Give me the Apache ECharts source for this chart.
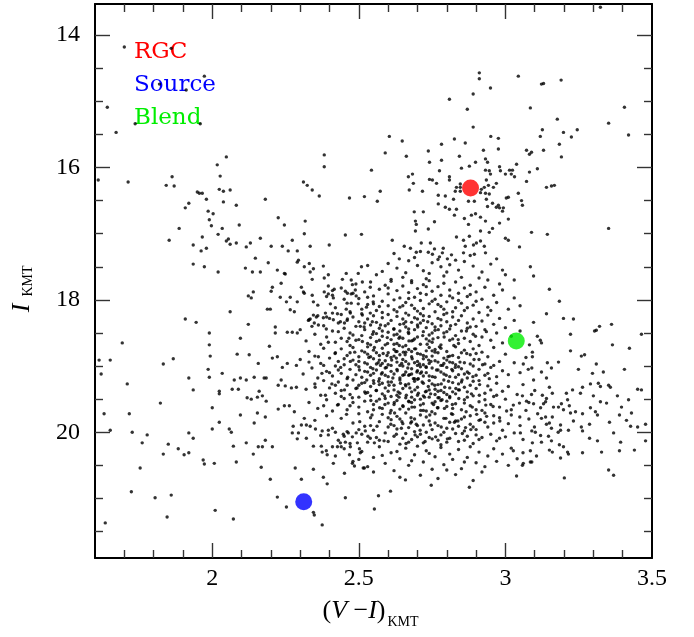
<!DOCTYPE html>
<html>
<head>
<meta charset="utf-8">
<script src="https://cdn.jsdelivr.net/npm/echarts@6/dist/echarts.min.js"></script>
<style>html,body{margin:0;padding:0;background:#fff}#c{width:694px;height:637px}</style>
</head>
<body>
<div id="c"></div>
<script>
// ---- axis ticks ----
const xMajorTicks = [2, 2.5, 3];
const xLabelValues = [2, 2.5, 3, 3.5];
const xMinorTicks = [1.7,1.8,1.9,2.1,2.2,2.3,2.4,2.6,2.7,2.8,2.9,3.1,3.2,3.3,3.4];
const yMajorTicks = [14, 16, 18, 20];
const yMinorTicks = [14.5,15,15.5,16.5,17,17.5,18.5,19,19.5,20.5,21,21.5];

// ---- highlighted stars ----
const rgcPoint = [2.881, 16.31];
const sourcePoint = [2.312, 21.05];
const blendPoint = [3.037, 18.62];

// ---- field stars ----
const starsTop = [[1.70,14.18],[1.86,14.20],[1.973,14.62],[1.82,14.74],[1.911,14.83],[1.642,15.09],[1.672,15.47],[1.737,15.34],[1.959,15.34],
[3.324,13.58],[2.604,15.53],[2.911,14.57],[2.911,14.66],[3.044,14.62],[3.123,14.74],[3.13,14.73],[3.19,14.68],[2.949,14.80],[2.89,14.89],[2.809,14.97],[2.87,15.12],[3.085,15.10],[3.406,15.09],[3.177,15.27],[3.352,15.33],[2.89,15.39],[3.126,15.43],[3.198,15.47],[3.245,15.43],[2.826,15.57],[2.95,15.53],[2.976,15.56],[3.119,15.53],[3.225,15.54],[3.42,15.51]];

const starsUpperLeft = [[1.611,16.19],[1.713,16.22],[1.843,16.27],[1.863,16.14],[1.87,16.28],[2.017,15.96],[2.048,15.84],[2.027,16.13],[2.024,16.33],[2.038,16.36],[2.061,16.34],[1.949,16.37],[1.956,16.39],[1.966,16.39],[1.98,16.48],[1.92,16.54],[1.908,16.61],[2.038,16.52],[2.082,16.57],[1.986,16.66],[2.003,16.70],[1.99,16.79],[1.997,16.88],[1.887,16.92],[1.853,17.10],[1.935,17.17],[1.966,17.05],[1.98,17.22],[1.962,17.26],[2.02,17.01],[2.034,16.92],[2.048,17.11],[2.055,17.08],[2.061,17.16],[2.082,17.14],[2.092,16.87],[1.935,17.46],[1.973,17.50],[2.02,17.58],[2.061,18.18],[1.908,18.29],[1.945,18.34],[2.123,18.37],[2.181,16.48],[2.225,16.76],[2.246,16.87],[2.311,16.22],[2.324,16.27],[2.341,16.34],[2.365,16.43],[2.382,15.81],[2.382,15.99],[2.317,16.81],[2.314,17.0],[2.273,17.1],[2.334,17.19],[2.259,17.26],[2.29,17.26],[2.29,17.43],[2.294,17.4],[2.331,17.45],[2.314,17.5],[2.334,17.58],[2.345,17.53],[2.468,16.46],[2.519,16.44],[2.543,16.04],[2.454,17.02],[2.509,17.01],[2.399,17.17],[2.379,17.49],[2.382,17.67],[2.396,17.62],[2.457,17.6],[2.498,17.6],[2.509,17.5],[2.512,17.73],[2.444,17.69],[2.539,17.81],[2.382,17.88],[2.416,17.84],[2.396,17.91],[2.41,17.93],[2.113,17.52],[2.137,17.58],[2.164,17.58],[2.147,17.37],[2.116,17.2],[2.13,17.14],[2.164,17.07],[2.201,17.19],[2.191,17.44],[2.222,17.55],[2.246,17.6],[2.249,17.61],[2.239,17.19],[2.235,17.75],[2.205,17.81],[2.201,17.87],[2.14,17.88],[2.123,17.94],[2.133,17.97],[2.232,17.96],[2.253,18.03],[2.266,17.96],[2.29,18.03],[2.311,17.88],[2.304,17.81],[2.314,17.9],[2.345,18.03],[2.341,17.93],[2.341,17.69],[2.355,18.26],[2.334,18.29],[2.266,18.15],[2.28,18.18],[2.188,18.14],[2.198,18.14],[2.215,18.41],[2.348,18.35],[2.362,18.38],[2.379,18.27],[2.386,18.2],[2.389,18.44],[2.403,18.06],[2.41,18.2],[2.413,18.3],[2.413,17.97],[2.396,17.79],[2.427,18.21],[2.437,18.33],[2.451,18.35],[2.461,18.29],[2.457,18.14],[2.474,18.05],[2.471,18.2],[2.498,18.06],[2.505,18.4],[2.512,18.23],[2.526,18.11],[2.539,18.2],[2.546,18.33],[2.549,18.03],[2.454,17.87],[2.461,17.9],[2.474,17.91],[2.491,17.94],[2.478,17.77],[2.488,17.85],[2.474,17.7],[2.345,18.23],[2.328,18.31]];

const starsBranch = [[2.782,15.65],[2.648,15.60],[2.863,15.63],[2.976,15.72],[2.925,15.74],[3.072,15.74],[3.082,15.80],[3.089,15.77],[3.13,15.74],[3.184,15.65],[3.191,15.84],[2.737,15.75],[2.741,15.92],[2.782,15.89],[2.843,15.83],[2.59,15.78],[2.662,15.83],[2.563,16.51],[2.573,16.36],[2.614,17.1],[2.669,16.14],[2.683,16.10],[2.672,16.34],[2.686,16.24],[2.717,16.36],[2.741,16.18],[2.751,16.19],[2.765,16.24],[2.775,16.05],[2.809,16.14],[2.809,16.19],[2.85,16.01],[2.877,15.98],[2.898,15.92],[2.932,15.87],[2.939,15.92],[2.932,16.04],[2.945,16.05],[2.949,16.10],[2.98,15.99],[2.983,16.05],[3.014,16.04],[3.024,16.04],[3.02,16.10],[3.031,16.14],[3.0,16.10],[3.038,15.95],[3.072,16.21],[3.082,16.07],[3.109,16.02],[3.14,16.30],[3.157,16.28],[3.167,16.27],[2.935,16.19],[2.942,16.27],[2.928,16.30],[2.918,16.33],[2.932,16.39],[2.945,16.40],[2.959,16.30],[2.969,16.24],[2.846,16.30],[2.833,16.30],[2.829,16.36],[2.846,16.36],[2.846,16.25],[2.771,16.42],[2.795,16.43],[2.771,16.55],[2.795,16.60],[2.809,16.63],[2.823,16.48],[2.833,16.63],[2.826,16.72],[2.874,16.51],[2.894,16.51],[2.935,16.48],[2.939,16.59],[2.956,16.54],[2.976,16.57],[2.969,16.60],[2.98,16.61],[2.99,16.66],[2.993,16.61],[3.003,16.46],[3.01,16.45],[3.044,16.39],[3.055,16.50],[3.058,16.57],[2.915,16.38],[2.689,16.67],[2.72,16.67],[2.693,16.81],[2.696,16.86],[2.693,16.96],[2.737,16.93],[2.758,16.82],[2.86,16.77],[2.884,16.72],[2.898,16.70],[2.915,16.75],[2.932,16.81],[2.874,16.86],[2.98,16.84],[3.01,16.78],[2.956,16.92],[2.945,16.98],[2.833,17.05],[2.877,17.04],[2.915,16.96],[2.857,17.10],[2.863,17.19],[2.891,17.17],[2.901,17.14],[2.915,17.11],[2.928,17.19],[3.0,17.07],[3.01,17.10],[3.048,17.20],[3.089,16.98],[3.143,17.01],[3.352,16.92],[2.655,17.19],[2.676,17.22],[2.696,17.28],[2.713,17.14],[2.744,17.14],[2.751,17.31],[2.737,17.28],[2.758,17.23],[2.775,17.35],[2.785,17.29],[2.788,17.22],[2.802,17.38],[2.816,17.32],[2.857,17.29],[2.894,17.31],[2.932,17.29],[2.638,17.38]];

const starsLowerLeft = [[1.693,18.65],[1.614,18.91],[1.652,18.91],[1.621,19.12],[1.71,19.27],[1.833,18.97],[1.867,18.89],[1.99,18.5],[1.99,18.68],[1.993,18.85],[1.986,19.05],[1.99,19.17],[2.034,19.11],[1.92,19.18],[1.935,19.36],[1.823,19.56],[1.631,19.72],[1.717,19.72],[1.652,19.97],[1.727,20.0],[1.761,20.16],[1.778,20.04],[1.833,20.33],[1.85,20.18],[1.884,20.25],[1.904,20.34],[1.92,20.31],[1.92,20.01],[1.935,20.09],[1.86,20.95],[1.805,20.99],[1.724,20.9],[1.754,20.54],[1.846,21.28],[1.635,21.37],[1.969,20.42],[1.973,20.48],[2.007,20.47],[2.0,19.95],[2.0,19.63],[2.024,19.85],[2.024,19.38],[2.024,19.42],[2.058,19.95],[2.065,20.0],[2.01,21.18],[2.072,21.31],[2.082,20.45],[2.072,20.21],[2.116,20.16],[2.096,19.74],[2.085,18.82],[2.096,18.58],[2.126,18.83],[2.068,19.35],[2.075,19.21],[2.089,19.35],[2.096,19.18],[2.116,19.21],[2.143,19.17],[2.119,19.48],[2.133,19.5],[2.143,19.86],[2.154,19.71],[2.154,19.47],[2.16,19.38],[2.171,19.45],[2.157,18.96],[2.177,19.18],[2.184,19.18],[2.184,19.53],[2.181,19.77],[2.157,20.22],[2.14,20.33],[2.171,20.22],[2.181,20.12],[2.205,20.22],[2.167,20.53],[2.198,20.71],[2.222,20.98],[2.253,21.13],[2.283,20.54],[2.304,20.71],[2.345,20.56],[2.379,20.68],[2.392,20.78],[2.345,21.21],[2.348,21.25],[2.375,21.4],[2.454,20.99],[2.553,21.16],[2.451,20.62],[2.413,20.47],[2.478,20.47],[2.485,20.51],[2.519,20.54],[2.468,20.34],[2.502,20.25],[2.505,20.31],[2.495,20.16],[2.471,20.22],[2.44,20.22],[2.427,20.22],[2.41,20.22],[2.392,20.34],[2.375,20.3],[2.389,20.28],[2.372,20.21],[2.345,20.21],[2.321,20.09],[2.29,20.1],[2.273,20.01],[2.294,20.01],[2.314,19.79],[2.321,19.89],[2.334,19.91],[2.352,19.95],[2.375,19.98],[2.396,19.97],[2.42,20.0],[2.396,20.04],[2.447,20.03],[2.437,20.16],[2.454,20.15],[2.464,20.01],[2.478,20.07],[2.491,20.01],[2.522,19.98],[2.539,20.09],[2.553,20.16],
[2.205,18.88],[2.222,18.86],[2.239,19.02],[2.256,18.96],[2.287,18.99],[2.195,18.70],[2.215,18.5],[2.256,18.49],[2.273,18.49],[2.29,18.5],[2.225,19.29],[2.235,19.21],[2.249,19.3],[2.27,19.33],[2.287,19.32],[2.225,19.65],[2.246,19.6],[2.263,19.6],[2.28,19.69],[2.276,19.91],[2.304,19.89]];

const starsTail = [[3.085,17.50],[3.096,17.64],[3.15,17.84],[3.184,18.02],[3.198,18.28],[3.232,18.29],[3.096,18.34],[3.14,18.21],[3.222,18.52],[3.109,18.55],[3.119,18.61],[3.123,18.65],[3.082,18.68],[3.092,18.79],[3.092,18.86],[3.061,18.97],[3.078,19.05],[3.143,18.95],[3.157,19.03],[3.181,18.94],[3.14,19.18],[3.123,19.09],[3.096,19.21],[3.222,18.77],[3.259,18.85],[3.27,18.83],[3.249,19.05],[3.297,19.11],[3.31,18.97],[3.321,18.40],[3.31,18.46],[3.362,18.37],[3.365,18.68],[3.423,18.73],[3.406,19.05],[3.352,19.29],[3.358,19.32],[3.317,19.26],[3.324,19.31],[3.29,19.27],[3.263,19.32],[3.229,19.36],[3.256,19.41],[3.208,19.41],[3.16,19.41],[3.15,19.32],[3.126,19.44],[3.089,19.43],[3.058,19.45],[3.048,19.56],[3.072,19.53],[3.096,19.57],[3.13,19.57],[3.137,19.54],[3.164,19.62],[3.181,19.62],[3.191,19.57],[3.218,19.60],[3.198,19.66],[3.222,19.71],[3.239,19.69],[3.263,19.72],[3.29,19.63],[3.307,19.69],[3.324,19.54],[3.345,19.56],[3.382,19.45],[3.42,19.51],[3.451,19.35],[3.464,19.36],[3.478,19.88],[3.451,19.92],[3.427,19.91],[3.43,19.71],[3.413,19.82],[3.389,19.74],[3.369,20.01],[3.355,19.85],[3.314,19.74],[3.287,19.88],[3.259,19.92],[3.263,19.98],[3.232,19.83],[3.215,19.97],[3.188,19.97],[3.188,19.89],[3.157,19.94],[3.15,19.86],[3.137,19.77],[3.123,19.79],[3.099,19.92],[3.102,20.0],[3.157,20.13],[3.184,20.19],[3.198,20.22],[3.212,20.30],[3.215,20.33],[3.16,20.30],[3.188,20.39],[3.15,20.27],[3.147,20.06],[3.123,20.15],[3.092,20.16],[3.085,20.28],[3.106,20.36],[3.085,20.45],[3.061,20.47],[3.058,20.5],[3.027,20.28],[3.038,20.66],[3.051,20.01],[3.201,20.69],[3.263,20.31],[3.287,20.09],[3.314,20.13],[3.328,20.3],[3.352,20.57],[3.369,20.65],[3.393,20.15],[3.389,20.28],[3.44,20.27],[3.478,20.13],[3.396,19.62],[3.3,19.45],[3.212,19.51],[3.304,18.47],[3.464,18.52],[3.334,19.09],
[2.877,20.83],[2.608,20.89],[2.567,20.96],[2.747,20.80],[2.659,20.72],[2.515,20.54]];

const starsCoreUpper = [[2.60,17.45],[2.63,17.52],[2.67,17.41],[2.70,17.48],[2.72,17.56],[2.75,17.44],[2.78,17.5],[2.81,17.47],[2.84,17.55],[2.86,17.42],[2.89,17.49],[2.92,17.58],[2.95,17.46],[2.66,17.59],[2.69,17.36],[2.74,17.6],[2.77,17.39],[2.83,17.4],[2.58,17.57],[2.99,17.55],[2.88,17.33],[2.62,17.3],[2.71,17.27],[2.80,17.58],[2.97,17.38],[2.53,17.48],[2.56,17.62],[2.65,17.66],[2.73,17.68],[2.79,17.64],[2.85,17.66],[2.91,17.67],[2.94,17.7],[2.68,17.71],[2.61,17.69],[3.0,17.62],[3.03,17.7],
[2.39,17.95],[2.42,18.12],[2.44,17.82],[2.46,18.05],[2.47,18.18],[2.49,17.76],[2.50,17.98],[2.51,18.14],[2.52,17.88],[2.53,18.07],[2.54,17.73],[2.55,17.94],[2.56,18.16],[2.57,17.84],[2.58,18.02],[2.58,18.19],[2.59,17.78],[2.60,17.91],[2.60,18.09],[2.61,17.72],[2.62,18.0],[2.62,18.15],[2.63,17.86],[2.64,17.97],[2.64,18.11],[2.65,17.79],[2.66,18.04],[2.66,18.2],[2.67,17.89],[2.68,17.74],[2.68,18.08],[2.69,17.96],[2.70,18.17],[2.70,17.83],[2.71,18.01],[2.72,17.77],[2.72,18.13],[2.73,17.92],[2.74,18.06],[2.74,17.71],[2.75,17.87],[2.76,18.18],[2.76,17.99],[2.77,17.8],[2.78,18.1],[2.78,17.93],[2.79,17.75],[2.80,18.03],[2.80,18.2],[2.81,17.85],[2.82,17.97],[2.83,18.12],[2.83,17.73],[2.84,17.9],[2.85,18.05],[2.86,17.82],[2.86,18.16],[2.87,17.95],[2.88,17.78],[2.89,18.08],[2.90,17.88],[2.91,18.19],[2.92,17.99],[2.93,17.81],[2.94,18.11],[2.96,17.93],[2.97,18.04],[2.99,17.85],[3.01,18.14],[3.03,17.97],[3.05,18.09],[2.63,18.18],[2.67,17.98],[2.71,17.9],[2.75,18.02],[2.79,18.14],[2.84,18.01],[2.88,17.92],[2.57,18.1],[2.53,17.96],[2.69,18.13],[2.73,17.8],[2.77,18.07],[2.82,18.18],[2.6,17.82],[2.65,18.09],[2.48,17.9],[2.45,17.99],[2.41,17.86],[2.36,18.08],[2.55,18.06],[2.9,18.02],[2.95,18.16],[2.98,17.76],[2.87,18.12],[2.81,17.94]];

const starsCoreMiddle = [[2.30,18.45],[2.32,18.62],[2.33,18.3],[2.35,18.52],[2.36,18.24],[2.37,18.67],[2.38,18.39],[2.39,18.56],[2.40,18.28],[2.41,18.47],[2.42,18.64],[2.43,18.35],[2.44,18.22],[2.44,18.58],[2.45,18.43],[2.46,18.31],[2.47,18.69],[2.47,18.5],[2.48,18.26],[2.49,18.4],[2.49,18.61],[2.50,18.33],[2.51,18.54],[2.51,18.21],[2.52,18.45],[2.53,18.66],[2.53,18.29],[2.54,18.38],[2.54,18.57],[2.55,18.48],[2.55,18.24],[2.56,18.63],[2.56,18.34],[2.57,18.43],[2.58,18.55],[2.58,18.27],[2.59,18.68],[2.59,18.39],[2.60,18.49],[2.60,18.22],[2.61,18.6],[2.61,18.31],[2.62,18.44],[2.62,18.53],[2.63,18.25],[2.63,18.66],[2.64,18.37],[2.64,18.47],[2.65,18.58],[2.65,18.29],[2.66,18.41],[2.66,18.69],[2.67,18.23],[2.67,18.51],[2.68,18.34],[2.68,18.62],[2.69,18.45],[2.69,18.27],[2.70,18.56],[2.70,18.38],[2.71,18.67],[2.71,18.21],[2.72,18.48],[2.72,18.31],[2.73,18.59],[2.73,18.42],[2.74,18.25],[2.74,18.53],[2.75,18.36],[2.75,18.64],[2.76,18.46],[2.77,18.28],[2.77,18.57],[2.78,18.39],[2.78,18.68],[2.79,18.22],[2.79,18.5],[2.80,18.33],[2.81,18.61],[2.81,18.44],[2.82,18.26],[2.83,18.54],[2.83,18.37],[2.84,18.66],[2.85,18.47],[2.85,18.24],[2.86,18.58],[2.87,18.35],[2.87,18.43],[2.88,18.63],[2.89,18.29],[2.89,18.52],[2.90,18.4],[2.91,18.69],[2.92,18.32],[2.92,18.56],[2.93,18.45],[2.94,18.23],[2.95,18.61],[2.96,18.37],[2.97,18.5],[2.98,18.28],[2.99,18.65],[3.00,18.42],[3.02,18.55],[3.03,18.31],[3.05,18.47],[2.57,18.61],[2.6,18.36],[2.63,18.52],[2.66,18.33],[2.69,18.59],[2.72,18.24],[2.75,18.5],[2.78,18.3],[2.52,18.35],[2.48,18.53],[2.46,18.63],[2.62,18.67],[2.67,18.44],[2.71,18.35],[2.74,18.62],[2.8,18.48],[2.84,18.31],[2.88,18.41],[2.58,18.47],[2.54,18.68],[2.43,18.48],[2.39,18.26],[2.34,18.4],[2.5,18.6],[2.56,18.51],[2.64,18.56],[2.7,18.29],[2.76,18.41],[2.82,18.59],
[2.30,18.9],[2.31,19.12],[2.33,18.78],[2.34,19.03],[2.35,18.85],[2.36,19.18],[2.37,18.96],[2.38,18.73],[2.39,19.08],[2.40,18.88],[2.41,19.15],[2.42,18.8],[2.42,19.0],[2.43,18.93],[2.44,19.11],[2.44,18.74],[2.45,18.98],[2.46,19.19],[2.46,18.84],[2.47,19.05],[2.48,18.91],[2.48,18.72],[2.49,19.13],[2.50,18.86],[2.50,19.01],[2.51,18.77],[2.51,19.17],[2.52,18.95],[2.52,19.08],[2.53,18.82],[2.53,18.71],[2.54,19.02],[2.54,19.14],[2.55,18.89],[2.55,18.76],[2.56,19.06],[2.56,18.97],[2.57,19.19],[2.57,18.84],[2.58,18.73],[2.58,19.1],[2.59,18.92],[2.59,19.03],[2.60,18.8],[2.60,19.16],[2.61,18.87],[2.61,18.99],[2.62,19.12],[2.62,18.75],[2.63,19.05],[2.63,18.94],[2.64,18.83],[2.64,19.18],[2.65,18.71],[2.65,19.0],[2.65,18.9],[2.66,19.09],[2.66,18.79],[2.67,19.14],[2.67,18.97],[2.68,18.86],[2.68,19.04],[2.69,18.74],[2.69,19.19],[2.70,18.93],[2.70,19.07],[2.71,18.82],[2.71,19.01],[2.72,19.15],[2.72,18.89],[2.73,18.77],[2.73,19.1],[2.74,18.96],[2.74,18.72],[2.75,19.03],[2.75,18.85],[2.76,19.17],[2.76,18.92],[2.77,18.8],[2.77,19.06],[2.78,18.99],[2.78,18.73],[2.79,19.12],[2.79,18.88],[2.80,19.02],[2.80,18.78],[2.81,19.16],[2.81,18.94],[2.82,18.84],[2.82,19.07],[2.83,18.71],[2.83,18.98],[2.84,19.13],[2.84,18.87],[2.85,19.04],[2.86,18.76],[2.86,18.95],[2.87,19.18],[2.87,19.09],[2.88,18.83],[2.89,19.0],[2.89,18.74],[2.90,19.14],[2.91,18.9],[2.91,19.05],[2.92,18.79],[2.93,18.97],[2.94,19.11],[2.94,18.86],[2.95,19.02],[2.96,18.72],[2.97,19.16],[2.98,18.93],[2.99,19.07],[3.00,18.82],[3.01,19.13],[3.03,18.95],[3.05,19.1],[3.07,18.87],[3.09,19.03],[2.52,18.79],[2.55,19.11],[2.58,18.96],[2.61,19.08],[2.63,18.78],[2.64,18.99],[2.66,18.93],[2.67,18.75],[2.68,19.12],[2.69,18.95],[2.7,18.81],[2.71,19.11],[2.72,18.98],[2.73,18.86],[2.74,19.15],[2.76,18.75],[2.77,18.94],[2.78,19.09],[2.8,18.91],[2.82,18.95],[2.83,19.17],[2.85,18.8],[2.88,18.97],[2.6,18.98],[2.57,18.91],[2.54,18.86],[2.5,18.93],[2.47,18.8],[2.43,19.06],[2.38,18.99],[2.33,18.94],[2.62,18.85],[2.65,19.14],[2.68,18.78],[2.7,18.99],[2.73,19.02],[2.75,18.77],[2.79,18.96],[2.81,18.85],[2.84,19.01],[2.86,19.12],[2.9,18.81],[2.93,19.14],[2.96,18.99],[2.59,19.14],[2.56,18.8],[2.53,19.09],[2.49,18.98],[2.45,18.89],[2.4,19.1]];

const starsCoreLower = [[2.32,19.35],[2.33,19.55],[2.35,19.27],[2.36,19.64],[2.37,19.44],[2.38,19.22],[2.39,19.51],[2.40,19.33],[2.41,19.68],[2.42,19.41],[2.43,19.24],[2.43,19.58],[2.44,19.37],[2.45,19.49],[2.46,19.29],[2.46,19.66],[2.47,19.43],[2.48,19.21],[2.48,19.55],[2.49,19.34],[2.50,19.47],[2.50,19.62],[2.51,19.26],[2.52,19.39],[2.52,19.53],[2.53,19.69],[2.54,19.31],[2.54,19.45],[2.55,19.22],[2.55,19.58],[2.56,19.37],[2.57,19.5],[2.57,19.28],[2.58,19.64],[2.58,19.42],[2.59,19.33],[2.60,19.56],[2.60,19.24],[2.61,19.46],[2.61,19.67],[2.62,19.36],[2.62,19.29],[2.63,19.52],[2.64,19.41],[2.64,19.21],[2.65,19.6],[2.65,19.34],[2.66,19.48],[2.67,19.27],[2.67,19.65],[2.68,19.39],[2.68,19.55],[2.69,19.23],[2.70,19.44],[2.70,19.32],[2.71,19.59],[2.71,19.5],[2.72,19.26],[2.73,19.38],[2.73,19.68],[2.74,19.47],[2.74,19.22],[2.75,19.56],[2.76,19.35],[2.76,19.43],[2.77,19.63],[2.77,19.28],[2.78,19.52],[2.79,19.4],[2.79,19.21],[2.80,19.61],[2.81,19.33],[2.81,19.48],[2.82,19.25],[2.83,19.57],[2.83,19.42],[2.84,19.36],[2.85,19.66],[2.85,19.24],[2.86,19.51],[2.87,19.39],[2.88,19.29],[2.88,19.6],[2.89,19.45],[2.90,19.34],[2.91,19.54],[2.91,19.22],[2.92,19.67],[2.93,19.41],[2.94,19.3],[2.95,19.58],[2.96,19.46],[2.97,19.26],[2.98,19.62],[2.99,19.38],[3.00,19.5],[3.01,19.31],[3.02,19.66],[3.04,19.43],[3.06,19.28],[3.08,19.55],[3.10,19.37],[3.12,19.63],[3.14,19.49],[2.59,19.49],[2.62,19.58],[2.66,19.3],[2.69,19.62],[2.72,19.45],[2.75,19.27],[2.78,19.37],[2.8,19.53],[2.82,19.64],[2.84,19.27],[2.87,19.47],[2.9,19.66],[2.93,19.51],[2.56,19.53],[2.53,19.4],[2.5,19.29],[2.47,19.6],[2.44,19.46],[2.63,19.44],[2.67,19.53],[2.7,19.2],[2.74,19.36],[2.77,19.48],[2.8,19.43],[2.86,19.32],[2.89,19.23],[2.95,19.36],[2.6,19.38],[2.64,19.65],[2.68,19.47],[2.72,19.67],[2.76,19.54],[2.82,19.39],[2.42,19.29],[2.38,19.6],[2.55,19.66],[2.52,19.25],[2.58,19.26],[2.97,19.44],
[2.35,19.82],[2.37,20.05],[2.39,19.75],[2.41,19.94],[2.43,20.12],[2.44,19.79],[2.46,19.99],[2.47,20.17],[2.48,19.86],[2.50,19.72],[2.51,20.03],[2.52,19.91],[2.53,20.15],[2.54,19.78],[2.55,19.97],[2.56,20.08],[2.57,19.84],[2.58,19.73],[2.59,20.01],[2.60,19.92],[2.60,20.14],[2.61,19.81],[2.62,20.06],[2.63,19.76],[2.63,19.95],[2.64,20.18],[2.65,19.87],[2.66,20.02],[2.66,19.71],[2.67,19.93],[2.68,20.11],[2.69,19.8],[2.69,19.99],[2.70,20.07],[2.71,19.74],[2.72,19.89],[2.72,20.16],[2.73,20.0],[2.74,19.83],[2.75,19.96],[2.75,20.1],[2.76,19.72],[2.77,19.9],[2.78,20.04],[2.78,20.19],[2.79,19.79],[2.80,19.94],[2.81,20.09],[2.81,19.85],[2.82,19.73],[2.83,20.02],[2.84,19.91],[2.84,20.14],[2.85,19.8],[2.86,19.98],[2.87,20.06],[2.88,19.75],[2.88,19.88],[2.89,20.17],[2.90,19.96],[2.91,19.82],[2.92,20.08],[2.93,19.71],[2.94,19.92],[2.95,20.03],[2.96,19.86],[2.97,20.13],[2.98,19.78],[2.99,19.97],[3.00,20.07],[3.01,19.87],[3.02,19.74],[3.03,20.01],[3.05,19.9],[3.06,20.11],[3.08,19.8],[3.09,19.98],[3.11,19.72],[3.12,20.05],[3.14,19.88],[3.16,19.77],[3.18,20.0],[2.62,19.9],[2.65,20.09],[2.68,19.84],[2.7,19.9],[2.73,19.77],[2.77,20.12],[2.79,20.0],[2.83,19.83],[2.86,20.12],[2.89,19.92],[2.93,19.85],[2.57,20.12],[2.54,19.9],[2.5,19.96],[2.45,20.06],[2.64,19.8],[2.71,20.03],[2.76,19.86],[2.8,20.15],[2.86,19.77],[2.9,20.04],[2.96,19.75],[2.6,19.78],[2.67,20.15],[2.74,20.08],[2.82,19.95],[2.91,20.11],[2.98,20.09],
[2.42,20.36],[2.45,20.25],[2.48,20.44],[2.51,20.29],[2.53,20.52],[2.55,20.38],[2.57,20.22],[2.59,20.47],[2.61,20.31],[2.62,20.58],[2.64,20.4],[2.66,20.24],[2.67,20.5],[2.69,20.34],[2.7,20.21],[2.72,20.45],[2.73,20.28],[2.75,20.56],[2.76,20.37],[2.78,20.23],[2.79,20.49],[2.81,20.33],[2.82,20.41],[2.84,20.26],[2.85,20.55],[2.87,20.38],[2.88,20.22],[2.9,20.46],[2.91,20.3],[2.93,20.52],[2.94,20.36],[2.96,20.25],[2.97,20.44],[2.99,20.33],[3.01,20.5],[3.02,20.24],[3.04,20.4],[3.06,20.31],[3.09,20.45],[2.63,20.29],[2.68,20.43],[2.74,20.32],[2.8,20.57],[2.86,20.45],[2.92,20.6],[2.58,20.35],[2.5,20.41],[2.71,20.65],[2.77,20.7],[2.83,20.64],[2.64,20.68],[2.89,20.73],[2.55,20.6]];

const starsCoreDense = [[2.512,18.63],[2.527,19.21],[2.534,18.87],[2.541,19.52],[2.548,19.04],[2.553,18.72],[2.559,19.37],[2.566,18.95],[2.571,19.63],[2.577,19.12],[2.583,18.81],[2.588,19.45],[2.594,19.02],[2.598,18.66],[2.603,19.29],[2.607,19.71],[2.612,18.91],[2.616,19.18],[2.621,19.55],[2.626,18.78],[2.631,19.07],[2.634,19.39],[2.638,18.69],[2.642,19.26],[2.646,18.96],[2.651,19.61],[2.655,19.13],[2.658,18.83],[2.662,19.44],[2.667,19.03],[2.671,18.62],[2.674,19.33],[2.678,19.78],[2.682,18.89],[2.686,19.19],[2.69,19.51],[2.694,18.74],[2.698,19.09],[2.703,19.41],[2.707,18.97],[2.711,19.67],[2.716,19.24],[2.72,18.84],[2.724,19.47],[2.729,19.01],[2.733,18.67],[2.737,19.31],[2.742,19.74],[2.746,18.93],[2.751,19.16],[2.755,19.58],[2.76,18.79],[2.765,19.06],[2.77,19.38],[2.775,18.71],[2.781,19.27],[2.786,18.99],[2.792,19.64],[2.798,19.14],[2.804,18.86],[2.81,19.46],[2.817,19.05],[2.824,18.69],[2.831,19.34],[2.838,19.83],[2.845,18.94],[2.852,19.21],[2.86,19.56],[2.868,18.81],[2.876,19.11],[2.884,19.42],[2.893,18.9],[2.902,19.73],[2.912,19.28],[2.922,18.98],[2.933,19.59],[2.945,19.19],
[2.503,19.84],[2.518,18.41],[2.531,20.06],[2.547,18.52],[2.562,19.91],[2.574,18.38],[2.586,20.13],[2.597,18.57],[2.609,19.88],[2.619,18.44],[2.628,20.03],[2.637,18.58],[2.645,19.94],[2.653,18.36],[2.661,20.17],[2.669,18.49],[2.677,19.86],[2.685,18.61],[2.692,20.04],[2.701,18.41],[2.709,19.97],[2.718,18.54],[2.726,20.14],[2.735,18.33],[2.744,19.89],[2.753,18.59],[2.762,20.07],[2.771,18.45],[2.781,19.92],[2.791,18.56],[2.802,20.1],[2.813,18.39],[2.826,19.85],[2.839,18.6],[2.853,20.02],[2.867,18.47],[2.882,19.96],[2.898,18.55],[2.915,19.81],[2.935,18.48],
[2.462,19.17],[2.471,18.93],[2.478,19.48],[2.486,18.79],[2.494,19.33],[2.502,19.06],[2.458,19.73],[2.466,18.58],[2.451,19.36],[2.438,19.02],[2.427,19.59],[2.419,18.81],[2.408,19.27],[2.396,18.64],[2.386,19.44],[2.374,19.11],[2.362,18.86],[2.351,19.32],
[2.628,18.88],[2.652,18.79],[2.673,19.13],[2.691,19.36],[2.714,19.09],[2.738,18.91],[2.759,19.29],[2.784,19.51],[2.806,19.23],[2.829,19.02],[2.637,19.47],[2.659,19.28],[2.681,19.62],[2.703,19.19],[2.727,19.39],[2.749,19.69],[2.774,19.48],[2.797,19.79],[2.819,19.58],[2.843,19.36],[2.866,19.69],[2.889,19.16],[2.611,19.24],[2.589,19.58],[2.568,19.23],[2.545,19.74],[2.523,19.41],[2.596,18.84],[2.574,18.99],[2.551,19.26],[2.529,18.97],[2.622,19.71],[2.647,19.84],[2.671,19.54],[2.696,19.88],[2.72,19.57],[2.745,19.42],[2.768,19.63],[2.793,19.32],[2.816,19.72],[2.841,19.49],[2.864,19.93],[2.887,19.62],[2.911,19.44],[2.936,19.76],[2.958,19.61],[2.981,19.83],[3.004,19.68],[3.027,19.59],[3.049,19.77],[3.07,19.67]];

const fieldStars = [].concat(starsTop, starsUpperLeft, starsBranch, starsLowerLeft, starsTail, starsCoreUpper, starsCoreMiddle, starsCoreLower, starsCoreDense);

// ---- chart ----
const X_MIN = 1.6, X_MAX = 3.5, Y_MIN = 13.53, Y_MAX = 21.9;
const tickStyle = { color: '#333', width: 1.4 };
const frameStyle = { color: '#000', width: 2 };
const numFont = { fontFamily: 'Liberation Serif', fontSize: 24, color: '#000' };

function xAx(pos, ticks, len, line, labels) {
  return {
    type: 'value', min: X_MIN, max: X_MAX, position: pos, gridIndex: 0,
    axisLine: { show: line, onZero: false, lineStyle: frameStyle },
    axisTick: { show: true, inside: true, length: len, customValues: ticks, lineStyle: tickStyle },
    axisLabel: labels ? Object.assign({ show: true, customValues: xLabelValues, margin: 9 }, numFont) : { show: false },
    splitLine: { show: false }, minorTick: { show: false }
  };
}
function yAx(pos, ticks, len, line, labels) {
  return {
    type: 'value', min: Y_MIN, max: Y_MAX, inverse: true, position: pos, gridIndex: 0,
    axisLine: { show: line, onZero: false, lineStyle: frameStyle },
    axisTick: { show: true, inside: true, length: len, customValues: ticks, lineStyle: tickStyle },
    axisLabel: labels ? Object.assign({ show: true, customValues: yMajorTicks, margin: 15 }, numFont) : { show: false },
    splitLine: { show: false }, minorTick: { show: false }
  };
}

const chart = echarts.init(document.getElementById('c'), null, { renderer: 'canvas' });
chart.setOption({
  animation: false,
  backgroundColor: '#fff',
  grid: { left: 95, right: 42, top: 4, bottom: 79, containLabel: false, outerBoundsMode: 'none' },
  xAxis: [
    xAx('bottom', xMajorTicks, 15, true, true),
    xAx('bottom', xMinorTicks, 8, false, false),
    xAx('top', xMajorTicks, 15, true, false),
    xAx('top', xMinorTicks, 8, false, false)
  ],
  yAxis: [
    yAx('left', yMajorTicks, 15, true, true),
    yAx('left', yMinorTicks, 8, false, false),
    yAx('right', yMajorTicks, 15, true, false),
    yAx('right', yMinorTicks, 8, false, false)
  ],
  series: [
    { type: 'scatter', xAxisIndex: 0, yAxisIndex: 0, data: fieldStars, symbol: 'circle', symbolSize: 3.4, itemStyle: { color: '#000' }, silent: true, large: false },
    { type: 'scatter', xAxisIndex: 0, yAxisIndex: 0, data: [rgcPoint], symbolSize: 17, itemStyle: { color: '#ff0000' }, silent: true },
    { type: 'scatter', xAxisIndex: 0, yAxisIndex: 0, data: [sourcePoint], symbolSize: 17, itemStyle: { color: '#0000ff' }, silent: true },
    { type: 'scatter', xAxisIndex: 0, yAxisIndex: 0, data: [blendPoint], symbolSize: 17, itemStyle: { color: '#00ee00' }, silent: true }
  ],
  graphic: [
    { type: 'text', left: 134, top: 41, style: { text: 'RGC', fill: '#ff0000', font: '23px "DejaVu Serif"' } },
    { type: 'text', left: 134, top: 74, style: { text: 'Source', fill: '#0000ff', font: '23px "DejaVu Serif"' } },
    { type: 'text', left: 134, top: 107, style: { text: 'Blend', fill: '#00ee00', font: '23px "DejaVu Serif"' } },
    { type: 'text', x: 354, y: 611, style: {
        text: '{n|(}{i|V}{n| −}{i|I}{n|)}', align: 'center', verticalAlign: 'middle',
        rich: {
          n: { fontFamily: 'Liberation Serif', fontSize: 26, fill: '#000' },
          i: { fontFamily: 'Liberation Serif', fontSize: 26, fontStyle: 'italic', fill: '#000' }
        } } },
    { type: 'text', x: 403, y: 622, style: { text: 'KMT', align: 'center', verticalAlign: 'middle', fill: '#000', font: '14px "Liberation Serif"' } },
    { type: 'text', x: 22, y: 308, rotation: Math.PI / 2, style: { text: 'I', align: 'center', verticalAlign: 'middle', fill: '#000', font: 'italic 26px "Liberation Serif"' } },
    { type: 'text', x: 28, y: 281, rotation: Math.PI / 2, style: { text: 'KMT', align: 'center', verticalAlign: 'middle', fill: '#000', font: '14px "Liberation Serif"' } }
  ]
});
</script>
</body>
</html>
